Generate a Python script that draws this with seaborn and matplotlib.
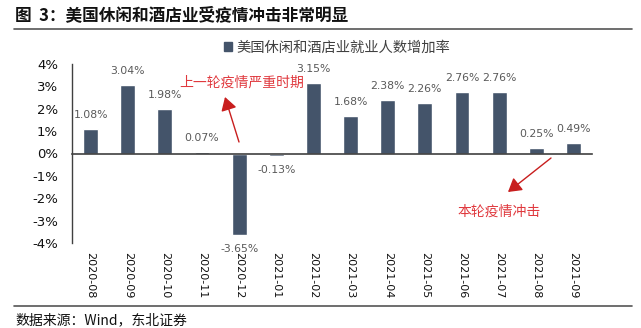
import numpy as np
import pandas as pd
import matplotlib
matplotlib.use("Agg")
import matplotlib.pyplot as plt
from matplotlib.patches import Patch
from matplotlib.lines import Line2D
import seaborn as sns

months = ["2020-08", "2020-09", "2020-10", "2020-11", "2020-12", "2021-01", "2021-02",
          "2021-03", "2021-04", "2021-05", "2021-06", "2021-07", "2021-08", "2021-09"]
growth = [1.08, 3.04, 1.98, 0.07, -3.65, -0.13, 3.15, 1.68, 2.38, 2.26, 2.76, 2.76, 0.25, 0.49]
series_name = "美国休闲和酒店业就业人数增加率"
title = "图  3：美国休闲和酒店业受疫情冲击非常明显"
source = "数据来源：Wind，东北证券"
note_prev = "上一轮疫情严重时期"
note_now = "本轮疫情冲击"
yticks = [-4, -3, -2, -1, 0, 1, 2, 3, 4]

sns.set_style("white")
plt.rcParams["font.family"] = ["Noto Sans CJK SC", "DejaVu Sans"]

W, H = 641, 328
fig = plt.figure(figsize=(W / 100, H / 100), dpi=100)
ax = fig.add_axes([72 / W, 1 - 243 / H, 520 / W, 179 / H])

df = pd.DataFrame({"month": months, "growth": growth})
bar_color = "#44546A"
sns.barplot(data=df, x="month", y="growth", color=bar_color, width=0.4,
            saturation=1, ax=ax)

ax.set_ylim(-4, 4)
ax.set_xlim(-0.5, len(months) - 0.5)
ax.set_yticks(yticks)
ax.set_yticklabels([f"{v}%" for v in yticks], fontsize=9.5, color="#111111",
                   family=["DejaVu Sans"])
ax.set_xlabel("")
ax.set_ylabel("")

for s in ["top", "right"]:
    ax.spines[s].set_visible(False)
ax.spines["bottom"].set_position(("data", 0))
ax.spines["bottom"].set_color("#404040")
ax.spines["bottom"].set_linewidth(1.2)
ax.spines["left"].set_color("#404040")
ax.spines["left"].set_linewidth(1.0)

ax.set_xticks(np.arange(-0.5, len(months), 1), minor=True)
ax.tick_params(axis="x", which="minor", direction="out", length=4, width=1, color="#404040")
ax.tick_params(axis="x", which="major", length=0, pad=71, labelsize=8, labelrotation=270,
               labelcolor="#111111")
for lab in ax.get_xticklabels():
    lab.set_family(["DejaVu Sans"])
    lab.set_va("top")
ax.tick_params(axis="y", direction="out", length=4, width=1, color="#404040", pad=6)

for c in ax.containers:
    ax.bar_label(c, labels=[f"{v:.2f}%" for v in growth], padding=6.5, fontsize=7.8,
                 color="#595959", family=["DejaVu Sans"])

# legend
ax.legend(handles=[Patch(color=bar_color, label=series_name)], loc="center",
          bbox_to_anchor=(337 / W, 1 - 48 / H), bbox_transform=fig.transFigure,
          frameon=False, handlelength=0.6, handleheight=0.6, handletextpad=0.3,
          fontsize=10.3, labelcolor="#404040")

# annotations
red_text = "#E0393E"
red_arrow = "#C81E1E"
fig.text(179 / W, 1 - 83 / H, note_prev, fontsize=10, color=red_text, va="center", ha="left")
fig.text(458 / W, 1 - 212 / H, note_now, fontsize=10, color=red_text, va="center", ha="left")
ax.annotate("", xy=(225 / W, 1 - 97 / H), xytext=(239 / W, 1 - 142 / H),
            xycoords="figure fraction", textcoords="figure fraction",
            arrowprops=dict(arrowstyle="-|>,head_length=0.5,head_width=0.3", color=red_arrow,
                            lw=1, mutation_scale=16, shrinkA=0, shrinkB=0))
ax.annotate("", xy=(508 / W, 1 - 192 / H), xytext=(551 / W, 1 - 158 / H),
            xycoords="figure fraction", textcoords="figure fraction",
            arrowprops=dict(arrowstyle="-|>,head_length=0.5,head_width=0.3", color=red_arrow,
                            lw=1, mutation_scale=16, shrinkA=0, shrinkB=0))

# title, rules, source
fig.text(15 / W, 1 - 15 / H, title, fontsize=12, fontweight="bold", color="#111111",
         va="center", ha="left")
fig.add_artist(Line2D([14 / W, 632 / W], [1 - 29 / H] * 2, color="#555555", lw=1.2))
fig.add_artist(Line2D([14 / W, 632 / W], [1 - 306 / H] * 2, color="#555555", lw=1.2))
fig.text(15 / W, 1 - 320 / H, source, fontsize=10, color="#111111", va="center", ha="left")

fig.savefig("out.png", dpi=100)
